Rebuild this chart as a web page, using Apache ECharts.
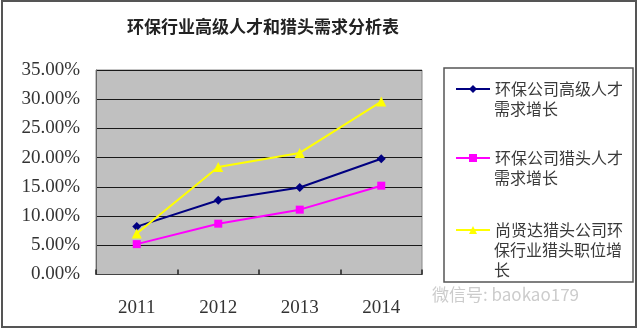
<!DOCTYPE html>
<html><head><meta charset="utf-8">
<script src="https://cdn.jsdelivr.net/npm/echarts@6/dist/echarts.min.js"></script>
<style>html,body{margin:0;padding:0;background:#fff}#c{width:640px;height:332px}</style>
</head><body><div id="c"></div>
<script>
const title = '环保行业高级人才和猎头需求分析表';
const categories = ['2011', '2012', '2013', '2014'];
const seriesNames = ['环保公司高级人才需求增长', '环保公司猎头人才需求增长', '尚贤达猎头公司环保行业猎头职位增长'];
const legendLines = [['环保公司高级人才', '需求增长'], ['环保公司猎头人才', '需求增长'], ['尚贤达猎头公司环', '保行业猎头职位增', '长']];
const seniorTalent = [8.2, 12.7, 14.9, 19.8];
const headhunterTalent = [5.2, 8.7, 11.1, 15.2];
const sxdPositions = [7.0, 18.4, 20.8, 29.6];
const yTicks = [0, 5, 10, 15, 20, 25, 30, 35];
const watermark = '微信号: baokao179';

const colors = ['#000080', '#ff00ff', '#ffff00'];
const symbols = ['diamond', 'rect', 'triangle'];
const symbolSizes = [9, 8, 10];
const values = [seniorTalent, headhunterTalent, sxdPositions];
const legendY = [89, 158, 230];
const cjk = '"Noto Sans CJK SC", sans-serif';

const chart = echarts.init(document.getElementById('c'));
const graphics = [
  {type: 'rect', shape: {x: 2, y: 1, width: 634, height: 326}, style: {fill: null, stroke: '#555', lineWidth: 2}, z: 0},
  {type: 'rect', shape: {x: 444, y: 68, width: 189, height: 214}, style: {fill: '#fff', stroke: '#555', lineWidth: 1.5}, z: 0},
  {type: 'text', x: 432, y: 295, style: {text: watermark, font: '17px ' + cjk, fill: '#cccccc', textVerticalAlign: 'middle'}, z: 10}
];
legendLines.forEach((lines, i) => {
  lines.slice(1).forEach((t, j) => {
    graphics.push({type: 'text', x: 494, y: legendY[i] + 20 * (j + 1),
      style: {text: t, font: '16px ' + cjk, fill: '#3a3a3a', textVerticalAlign: 'middle'}, z: 10});
  });
});

chart.setOption({
  animation: false,
  title: {text: title, left: 258, top: 13, textAlign: 'center',
    textStyle: {fontFamily: cjk, fontSize: 17, fontWeight: 'bold', color: '#222'}},
  grid: {left: 96, top: 70, right: 218, bottom: 57.5, show: true, backgroundColor: '#c0c0c0', borderColor: '#888', borderWidth: 1},
  legend: seriesNames.map((n, i) => ({
    data: [n], orient: 'vertical', left: 455, top: legendY[i] - 10, padding: 0,
    itemWidth: 34, itemHeight: 10, itemGap: 5,
    formatter: () => legendLines[i][0],
    textStyle: {fontFamily: cjk, fontSize: 16, color: '#3a3a3a', lineHeight: 20}
  })),
  xAxis: {type: 'category', data: categories, boundaryGap: true,
    axisLine: {lineStyle: {color: '#444', width: 1}},
    axisTick: {show: true, inside: true, length: 5, lineStyle: {color: '#222', width: 1.5}},
    axisLabel: {fontFamily: '"Liberation Serif", serif', fontSize: 19, color: '#333', margin: 24},
    splitLine: {show: false}},
  yAxis: {type: 'value', min: yTicks[0], max: yTicks[yTicks.length - 1], interval: 5,
    axisLine: {show: true, lineStyle: {color: '#666'}},
    axisTick: {show: false},
    axisLabel: {fontFamily: '"Liberation Serif", serif', fontSize: 19, color: '#333', margin: 16,
      formatter: v => v.toFixed(2) + '%'},
    splitLine: {show: true, lineStyle: {color: '#1a1a1a', width: 1}}},
  series: seriesNames.map((n, i) => ({
    name: n, type: 'line', data: values[i],
    symbol: symbols[i], symbolSize: symbolSizes[i],
    lineStyle: {color: colors[i], width: 2},
    itemStyle: {color: colors[i]}
  })),
  graphic: graphics
});
</script></body></html>
